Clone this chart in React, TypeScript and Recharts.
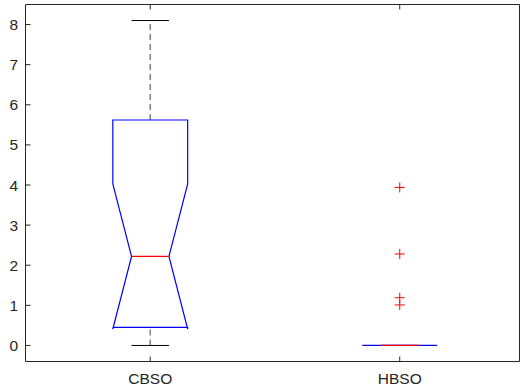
import React from 'react';
import { ComposedChart, Line, Scatter, XAxis, YAxis } from 'recharts';

// Box statistics per group
const categories = ['CBSO', 'HBSO'];
const whiskerLow = [0, 0];
const q1 = [0.45, 0];
const median = [2.22, 0];
const q3 = [5.62, 0];
const whiskerHigh = [8.1, 0];
const notchLow = [0.41, 0];
const notchHigh = [4.03, 0];
const outliers = [[], [3.94, 2.28, 1.19, 1.01]];

const yTicks = [0, 1, 2, 3, 4, 5, 6, 7, 8];
const xTicks = [1, 2];

const BOX_HALF = 0.15;
const NOTCH_HALF = 0.075;
const CAP_HALF = 0.075;

type Pt = { x: number; y: number };

const font = { fontFamily: '"Liberation Sans", Arial, sans-serif', fontSize: 15.5, fill: '#262626' };
const axisStroke = '#262626';

function outline(i: number): Pt[] {
  const x = i + 1;
  return [
    { x: x - BOX_HALF, y: q1[i] },
    { x: x - BOX_HALF, y: notchLow[i] },
    { x: x - NOTCH_HALF, y: median[i] },
    { x: x - BOX_HALF, y: notchHigh[i] },
    { x: x - BOX_HALF, y: q3[i] },
    { x: x + BOX_HALF, y: q3[i] },
    { x: x + BOX_HALF, y: notchHigh[i] },
    { x: x + NOTCH_HALF, y: median[i] },
    { x: x + BOX_HALF, y: notchLow[i] },
    { x: x + BOX_HALF, y: q1[i] },
    { x: x - BOX_HALF, y: q1[i] },
  ];
}

const Plus = (props: any) => {
  const { cx, cy } = props;
  if (cx == null || cy == null) return null;
  return (
    <path
      d={`M${cx - 5},${cy}H${cx + 5}M${cx},${cy - 5}V${cy + 5}`}
      stroke="#ff0000"
      strokeWidth={1}
      fill="none"
    />
  );
};

export default function App() {
  const seg = (key: string, data: Pt[], stroke: string, width = 1, dash?: string) => (
    <Line
      key={key}
      xAxisId="b"
      yAxisId="l"
      data={data}
      dataKey="y"
      type="linear"
      stroke={stroke}
      strokeWidth={width}
      strokeDasharray={dash}
      dot={false}
      activeDot={false}
      isAnimationActive={false}
    />
  );

  const series: React.ReactNode[] = [];
  categories.forEach((_, i) => {
    const x = i + 1;
    series.push(seg(`wu${i}`, [{ x, y: q3[i] }, { x, y: whiskerHigh[i] }], '#808080', 1.5, '6 4'));
    series.push(seg(`wl${i}`, [{ x, y: whiskerLow[i] }, { x, y: q1[i] }], '#808080', 1.5, '6 4'));
    series.push(seg(`cu${i}`, [{ x: x - CAP_HALF, y: whiskerHigh[i] }, { x: x + CAP_HALF, y: whiskerHigh[i] }], '#000000'));
    series.push(seg(`cl${i}`, [{ x: x - CAP_HALF, y: whiskerLow[i] }, { x: x + CAP_HALF, y: whiskerLow[i] }], '#000000'));
  });
  categories.forEach((_, i) => {
    series.push(seg(`box${i}`, outline(i), '#0000ff', 1.2));
  });
  categories.forEach((_, i) => {
    const x = i + 1;
    series.push(seg(`med${i}`, [{ x: x - NOTCH_HALF, y: median[i] }, { x: x + NOTCH_HALF, y: median[i] }], '#ff0000', 1.2));
  });

  const outlierData: Pt[] = [];
  outliers.forEach((vals, i) => vals.forEach((v) => outlierData.push({ x: i + 1, y: v })));

  return (
    <div style={{ position: 'absolute', left: 0, top: 0, background: '#fff' }}>
      <ComposedChart
        width={520}
        height={390}
        margin={{ top: -15.5, right: 0, bottom: 0, left: 0.5 }}
      >
        <XAxis
          xAxisId="b"
          dataKey="x"
          type="number"
          orientation="bottom"
          domain={[0.5, 2.48]}
          allowDataOverflow
          ticks={xTicks}
          tickFormatter={(v: number) => categories[v - 1] ?? ''}
          height={28.5}
          tickSize={-5}
          tickMargin={16.5}
          tick={font}
          stroke={axisStroke}
          axisLine={{ stroke: axisStroke }}
          tickLine={{ stroke: axisStroke }}
        />
        <XAxis
          xAxisId="t"
          dataKey="x"
          type="number"
          orientation="top"
          domain={[0.5, 2.48]}
          allowDataOverflow
          ticks={xTicks}
          tickFormatter={() => ''}
          height={20}
          tickSize={-5}
          stroke={axisStroke}
          axisLine={{ stroke: axisStroke }}
          tickLine={{ stroke: axisStroke }}
        />
        <YAxis
          yAxisId="l"
          type="number"
          orientation="left"
          domain={[-0.4, 8.5]}
          allowDataOverflow
          ticks={yTicks}
          width={25}
          tickSize={-5}
          tickMargin={12.5}
          tick={font}
          stroke={axisStroke}
          axisLine={{ stroke: axisStroke }}
          tickLine={{ stroke: axisStroke }}
        />
        <YAxis
          yAxisId="r"
          type="number"
          orientation="right"
          domain={[-0.4, 8.5]}
          allowDataOverflow
          ticks={yTicks}
          width={0.5}
          tickSize={-5}
          tick={false}
          stroke={axisStroke}
          axisLine={{ stroke: axisStroke }}
          tickLine={{ stroke: axisStroke }}
        />
        {series}
        <Scatter
          xAxisId="t"
          yAxisId="r"
          data={outlierData}
          dataKey="y"
          shape={<Plus />}
          isAnimationActive={false}
        />
      </ComposedChart>
    </div>
  );
}
